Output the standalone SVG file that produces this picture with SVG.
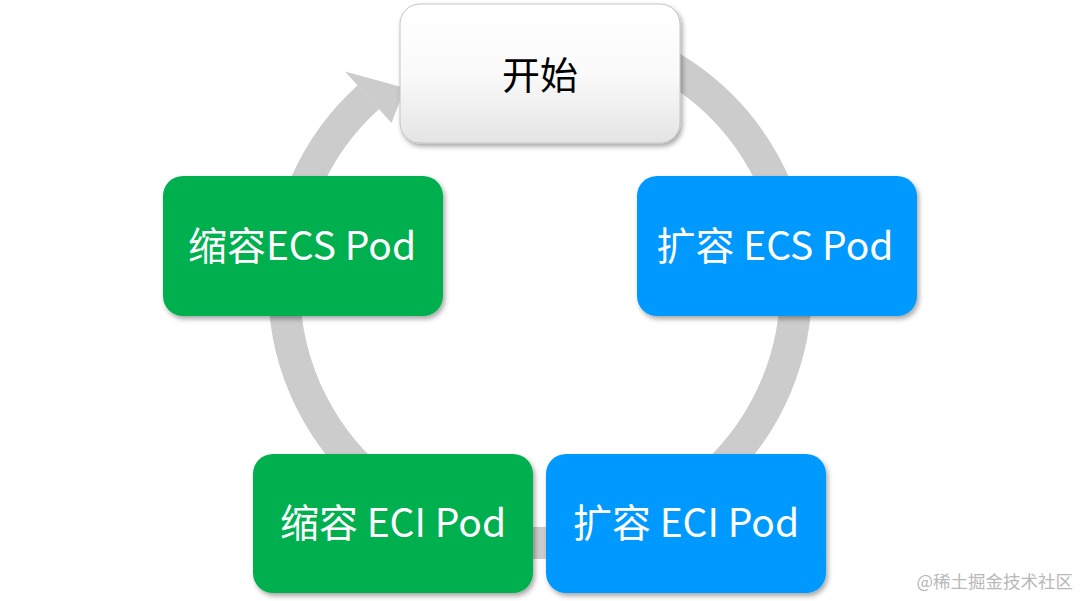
<svg xmlns="http://www.w3.org/2000/svg" width="1080" height="601" viewBox="0 0 1080 601">
<style>
.lbl{font-family:"Noto Sans CJK SC","Noto Sans",sans-serif;font-size:39px;text-anchor:middle;dominant-baseline:central;fill:#ffffff}
.blue{fill:#0099ff}
.green{fill:#00b050}
.ring{fill:none;stroke:#cccccc;stroke-width:32}
.wm{font-family:"Noto Sans CJK SC",sans-serif;font-size:17.5px;fill:#b8b8b8}
</style>
<defs>
<filter id="sh" x="-10%" y="-10%" width="125%" height="130%">
<feDropShadow dx="2" dy="3" stdDeviation="2.5" flood-color="#000" flood-opacity="0.35"/>
</filter>
<linearGradient id="wg" x1="0" y1="0" x2="0" y2="1">
<stop offset="0" stop-color="#ffffff"/>
<stop offset="0.5" stop-color="#fafafa"/>
<stop offset="1" stop-color="#e4e4e4"/>
</linearGradient>
</defs>
<rect width="1080" height="601" fill="#ffffff"/>
<g id="connectors">
<path class="ring" d="M 584.5 34.9 A 256 256 0 1 1 368.4 97.1"/>
<polygon points="345,71.5 405,88 391.5,123" fill="#cccccc"/>
</g>
<g id="start">
<rect x="400" y="4" width="280" height="139" rx="20" fill="url(#wg)" stroke="#c4c4c4" stroke-width="1" filter="url(#sh)"/>
<text class="lbl" x="540" y="72" style="fill:#000000;font-size:38px">开始</text>
</g>
<g id="scale-out-ecs">
<rect class="blue" x="637" y="176" width="280" height="140" rx="20" filter="url(#sh)"/>
<text class="lbl" x="775" y="243">扩容 ECS Pod</text>
</g>
<g id="scale-out-eci">
<rect class="blue" x="546" y="454" width="280" height="139" rx="20" filter="url(#sh)"/>
<text class="lbl" x="686" y="520">扩容 ECI Pod</text>
</g>
<g id="scale-in-eci">
<rect class="green" x="253" y="454" width="280" height="139" rx="20" filter="url(#sh)"/>
<text class="lbl" x="393" y="520">缩容 ECI Pod</text>
</g>
<g id="scale-in-ecs">
<rect class="green" x="163" y="176" width="280" height="140" rx="20" filter="url(#sh)"/>
<text class="lbl" x="302" y="243">缩容ECS Pod</text>
</g>
<text class="wm" x="1073" y="588" text-anchor="end">@稀土掘金技术社区</text>
</svg>
